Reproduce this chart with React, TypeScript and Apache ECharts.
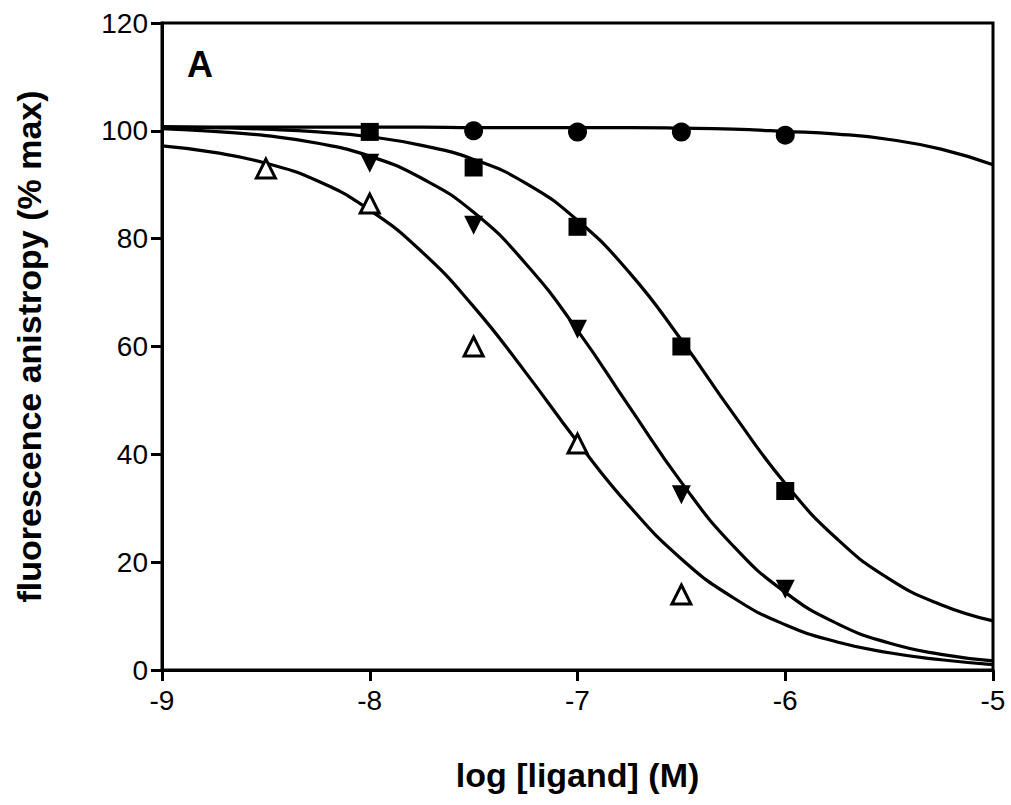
import { useEffect, useRef } from 'react';
import * as echarts from 'echarts';

const xTicks = [-9, -8, -7, -6, -5];
const curveX = [-9, -8.75, -8.5, -8.25, -8, -7.75, -7.5, -7.25, -7, -6.75, -6.5, -6.25, -6, -5.75, -5.5, -5.25, -5];

// fitted curves
const circleCurve = [100.7, 100.7, 100.7, 100.7, 100.7, 100.7, 100.6, 100.6, 100.6, 100.6, 100.5, 100.3, 99.9, 99.4, 98.4, 96.6, 93.7];
const squareCurve = [100.8, 100.6, 100.3, 99.8, 98.9, 97.3, 94.7, 90.3, 83.4, 73.7, 61.2, 47.5, 34.6, 24.3, 16.9, 12.1, 9.1];
const downCurve = [100.4, 99.9, 99.1, 97.7, 95.3, 91.2, 84.9, 75.4, 63.0, 48.8, 34.8, 23.0, 14.4, 8.6, 5.0, 2.9, 1.7];
const openCurve = [97.2, 96.0, 94.0, 90.7, 85.3, 77.6, 67.4, 55.2, 42.3, 30.4, 20.6, 13.4, 8.4, 5.2, 3.2, 1.9, 1.0];

// measured points
const circlePts = [[-7.5, 100], [-7, 99.8], [-6.5, 99.8], [-6, 99.2]];
const squarePts = [[-8, 99.8], [-7.5, 93.2], [-7, 82.2], [-6.5, 60], [-6, 33.2]];
const downPts = [[-8, 94], [-7.5, 82.5], [-7, 63.2], [-6.5, 32.5], [-6, 15]];
const openPts = [[-8.5, 93], [-8, 86.5], [-7.5, 60], [-7, 42], [-6.5, 14]];

function App() {
  const chartRef = useRef<HTMLDivElement>(null);

  useEffect(() => {
    if (!chartRef.current) return;
    const chart = echarts.init(chartRef.current, null, { renderer: 'svg' });
    const line = (ys: number[]) => ({
      type: 'line',
      data: curveX.map((x, i) => [x, ys[i]]),
      smooth: true,
      showSymbol: false,
      lineStyle: { color: '#000', width: 3.2 },
      z: 2,
    });
    const pts = (data: number[][], symbol: string, extra: any = {}) => ({
      type: 'scatter',
      data,
      symbol,
      symbolSize: 19,
      itemStyle: { color: '#000', opacity: 1 },
      z: 3,
      ...extra,
    });
    const font = { fontFamily: 'Liberation Sans, Arial', fontWeight: 'bold', color: '#000' };
    const axisCommon = {
      axisLine: { lineStyle: { color: '#000', width: 3 } },
      axisTick: { length: 11, lineStyle: { color: '#000', width: 3 } },
      splitLine: { show: false },
    };
    chart.setOption({
      animation: false,
      backgroundColor: '#fff',
      grid: { left: 162, right: 18, top: 23, bottom: 135, show: true, borderColor: '#000', borderWidth: 3 },
      xAxis: {
        type: 'value', min: -9, max: -5, interval: 1,
        name: 'log [ligand] (M)', nameLocation: 'middle', nameGap: 88,
        nameTextStyle: { ...font, fontSize: 34 },
        ...axisCommon,
        axisLabel: { ...font, fontWeight: 'normal', fontSize: 28, margin: 16, formatter: (v: number) => (xTicks.includes(v) ? String(v) : '') },
      },
      yAxis: {
        type: 'value', min: 0, max: 120, interval: 20,
        name: 'fluorescence anistropy (% max)', nameLocation: 'middle', nameGap: 116,
        nameTextStyle: { ...font, fontSize: 34 },
        ...axisCommon,
        axisLabel: { ...font, fontWeight: 'normal', fontSize: 28, margin: 14 },
      },
      graphic: [{ type: 'text', left: 187, top: 46, style: { text: 'A', font: 'bold 36px Liberation Sans, Arial', fill: '#000' } }],
      series: [
        line(circleCurve), line(squareCurve), line(downCurve), line(openCurve),
        pts(circlePts, 'circle'),
        pts(squarePts, 'rect', { symbolSize: 18 }),
        pts(downPts, 'triangle', { symbolRotate: 180 }),
        pts(openPts, 'triangle', { itemStyle: { color: '#fff', borderColor: '#000', borderWidth: 3, opacity: 1 } }),
      ],
    });
    return () => chart.dispose();
  }, []);

  return <div ref={chartRef} style={{ position: 'absolute', left: 0, top: 0, width: 1011, height: 805 }} />;
}

export default App;
